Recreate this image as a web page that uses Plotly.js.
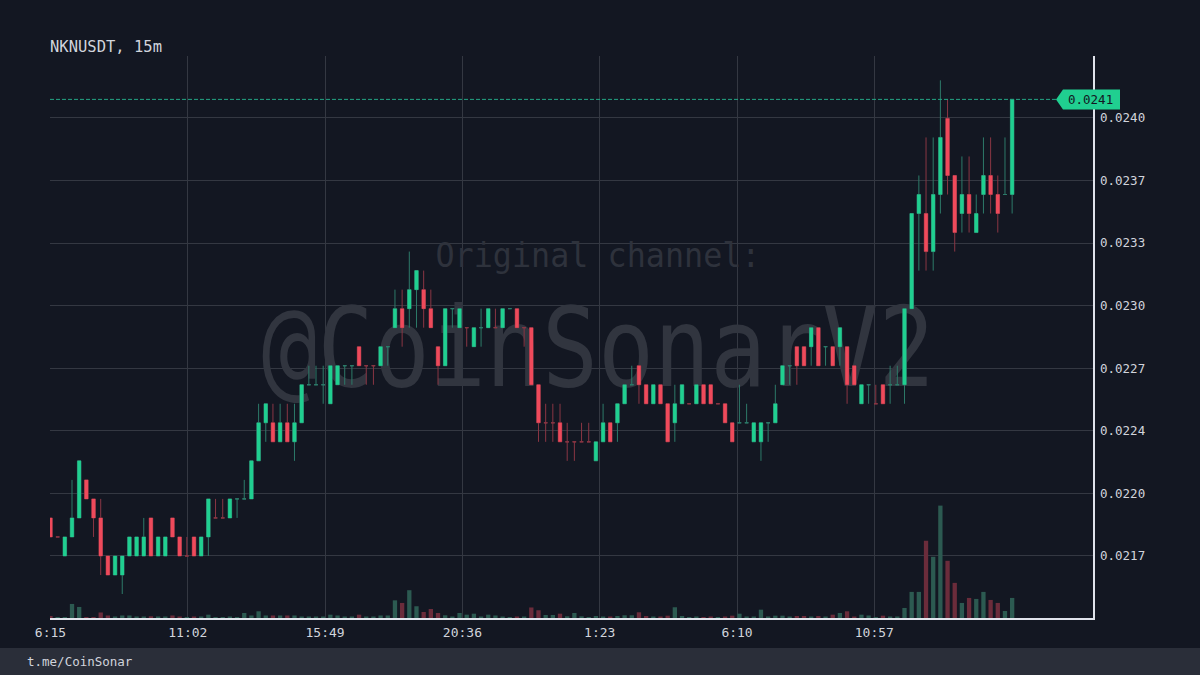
<!DOCTYPE html>
<html><head><meta charset="utf-8">
<script src="https://cdn.plot.ly/plotly-3.0.1.min.js"></script>
<style>html,body{margin:0;padding:0;background:#131722;} #chart{width:1200px;height:675px;}</style>
</head><body><div id="chart"></div>
<script>
const chartTitle = 'NKNUSDT, 15m';
const footerText = 't.me/CoinSonar';
const watermarkTexts = ['Original channel:', '@CoinSonarV2'];
const startUTC = Date.UTC(2021, 0, 10, 6, 15);
const stepMinutes = 15;

const opens = [
0.0219,0.0218,0.0217,0.0218,0.0219,0.0221,0.0220,0.0219,0.0217,0.0216,
0.0216,0.0217,0.0217,0.0217,0.0219,0.0217,0.0217,0.0219,0.0218,0.0217,
0.0218,0.0217,0.0218,0.0219,0.0219,0.0219,0.0220,0.0220,0.0220,0.0222,
0.0224,0.0224,0.0223,0.0224,0.0223,0.0224,0.0226,0.0226,0.0226,0.0225,
0.0226,0.0227,0.0227,0.0228,0.0227,0.0227,0.0227,0.0228,0.0229,0.0230,
0.0230,0.0231,0.0231,0.0230,0.0228,0.0227,0.0230,0.0229,0.0229,0.0228,
0.0229,0.0229,0.0229,0.0229,0.0230,0.0230,0.0229,0.0229,0.0226,0.0224,
0.0224,0.0224,0.0223,0.0223,0.0223,0.0223,0.0222,0.0223,0.0224,0.0224,
0.0225,0.0226,0.0227,0.0226,0.0225,0.0226,0.0225,0.0224,0.0225,0.0225,
0.0225,0.0226,0.0226,0.0225,0.0225,0.0224,0.0224,0.0224,0.0223,0.0223,
0.0224,0.0224,0.0226,0.0227,0.0228,0.0228,0.0228,0.0229,0.0228,0.0228,
0.0228,0.0228,0.0227,0.0225,0.0226,0.0225,0.0226,0.0226,0.0226,0.0226,
0.0230,0.0235,0.0235,0.0233,0.0236,0.0240,0.0237,0.0235,0.0236,0.0234,
0.0236,0.0237,0.0236,0.0236,0.0236];
const highs = [
0.0219,0.0218,0.0218,0.0221,0.0222,0.0221,0.0220,0.0220,0.0217,0.0217,
0.0217,0.0218,0.0218,0.0219,0.0219,0.0218,0.0218,0.0219,0.0218,0.0218,
0.0218,0.0218,0.0220,0.0220,0.0220,0.0220,0.0220,0.0221,0.0222,0.0225,
0.0225,0.0225,0.0225,0.0225,0.0225,0.0226,0.0227,0.0227,0.0227,0.0227,
0.0227,0.0227,0.0227,0.0228,0.0227,0.0227,0.0228,0.0228,0.0231,0.0231,
0.0233,0.0232,0.0232,0.0231,0.0228,0.0230,0.0230,0.0230,0.0229,0.0229,
0.0230,0.0230,0.0230,0.0230,0.0230,0.0230,0.0229,0.0229,0.0226,0.0225,
0.0225,0.0225,0.0224,0.0223,0.0224,0.0224,0.0223,0.0225,0.0224,0.0225,
0.0226,0.0227,0.0227,0.0226,0.0226,0.0226,0.0225,0.0226,0.0226,0.0225,
0.0226,0.0226,0.0226,0.0225,0.0225,0.0224,0.0226,0.0225,0.0224,0.0224,
0.0224,0.0226,0.0227,0.0227,0.0228,0.0228,0.0229,0.0229,0.0228,0.0228,
0.0229,0.0228,0.0227,0.0226,0.0226,0.0226,0.0226,0.0227,0.0227,0.0230,
0.0235,0.0237,0.0239,0.0239,0.0242,0.0241,0.0237,0.0238,0.0238,0.0236,
0.0239,0.0239,0.0237,0.0239,0.0241];
const lows = [
0.0218,0.0218,0.0217,0.0218,0.0219,0.0220,0.0218,0.0216,0.0216,0.0216,
0.0215,0.0217,0.0217,0.0217,0.0217,0.0217,0.0217,0.0218,0.0217,0.0217,
0.0217,0.0217,0.0217,0.0219,0.0219,0.0219,0.0219,0.0220,0.0220,0.0222,
0.0223,0.0223,0.0223,0.0223,0.0222,0.0224,0.0226,0.0226,0.0225,0.0225,
0.0226,0.0226,0.0226,0.0227,0.0226,0.0226,0.0227,0.0227,0.0229,0.0228,
0.0229,0.0229,0.0229,0.0229,0.0226,0.0227,0.0229,0.0229,0.0228,0.0228,
0.0228,0.0229,0.0229,0.0229,0.0230,0.0229,0.0228,0.0226,0.0223,0.0223,
0.0223,0.0223,0.0222,0.0222,0.0223,0.0223,0.0222,0.0223,0.0223,0.0223,
0.0225,0.0226,0.0225,0.0225,0.0225,0.0225,0.0223,0.0223,0.0225,0.0225,
0.0225,0.0225,0.0225,0.0225,0.0224,0.0223,0.0224,0.0224,0.0223,0.0222,
0.0223,0.0224,0.0226,0.0226,0.0226,0.0227,0.0227,0.0227,0.0227,0.0227,
0.0227,0.0225,0.0226,0.0225,0.0225,0.0225,0.0225,0.0225,0.0226,0.0225,
0.0230,0.0232,0.0232,0.0232,0.0235,0.0236,0.0233,0.0234,0.0234,0.0234,
0.0235,0.0235,0.0234,0.0236,0.0235];
const closes = [
0.0218,0.0218,0.0218,0.0219,0.0222,0.0220,0.0219,0.0217,0.0216,0.0217,
0.0217,0.0218,0.0218,0.0218,0.0217,0.0218,0.0218,0.0218,0.0217,0.0217,
0.0217,0.0218,0.0220,0.0219,0.0219,0.0220,0.0220,0.0220,0.0222,0.0224,
0.0225,0.0223,0.0224,0.0223,0.0224,0.0226,0.0226,0.0226,0.0226,0.0227,
0.0227,0.0227,0.0227,0.0227,0.0227,0.0227,0.0228,0.0228,0.0230,0.0229,
0.0231,0.0232,0.0230,0.0229,0.0227,0.0230,0.0230,0.0230,0.0229,0.0229,
0.0229,0.0230,0.0229,0.0230,0.0230,0.0229,0.0229,0.0226,0.0224,0.0224,
0.0224,0.0223,0.0223,0.0223,0.0223,0.0223,0.0223,0.0224,0.0223,0.0225,
0.0226,0.0226,0.0226,0.0225,0.0226,0.0225,0.0223,0.0225,0.0226,0.0225,
0.0226,0.0225,0.0225,0.0225,0.0224,0.0223,0.0224,0.0224,0.0224,0.0224,
0.0224,0.0225,0.0227,0.0227,0.0227,0.0227,0.0229,0.0227,0.0228,0.0227,
0.0229,0.0226,0.0226,0.0226,0.0226,0.0225,0.0225,0.0226,0.0226,0.0230,
0.0235,0.0236,0.0233,0.0236,0.0239,0.0237,0.0234,0.0236,0.0235,0.0235,
0.0237,0.0236,0.0235,0.0236,0.0241];
const volumes = [
2,1,1,14,11,1,1,5.5,2.5,1.5,
2.5,2.5,1.5,1.5,1.7,1.5,1.5,2.5,1.5,1,
1.5,1.5,3.3,1,1,1.5,1,5,2.5,6.7,
2.5,2.5,2.5,2.5,2.5,1.5,1.5,1.5,1.5,3.3,
2.5,1.5,1.5,3.3,1.5,1.5,2.5,2.5,17.6,15,
27.7,11.7,6,9,5,2.7,1.5,5,3.3,4.3,
1.5,3.3,2.5,1.5,1,1.5,1.5,10.5,7.7,3,
3,4.3,1.7,5,1.7,1,2,1.5,1.5,2,
2.7,2.7,5.7,2,1.5,1.5,2.3,10.7,2,1,
1.5,1,1.5,1,1.5,2.3,4.3,1.5,1.5,8.3,
1.5,2.3,2.3,1.5,2,2,1.5,2,1.5,3.3,
5,6.7,1.5,3.3,2.5,1,2.3,1.5,1.5,10,
26,26,77,61,112,57,35,15,20,19,
26,18,15,7,20];

const priceTickVals = [0.021700,0.022029,0.022358,0.022687,0.023016,0.023345,0.023674,0.024003];
const priceTickLabels = ['0.0217','0.0220','0.0224','0.0227','0.0230','0.0233','0.0237','0.0240'];
const timeTickVals = ['2021-01-10 06:15','2021-01-10 11:02','2021-01-10 15:49','2021-01-10 20:36','2021-01-11 01:23','2021-01-11 06:10','2021-01-11 10:57'];
const timeTickLabels = ['6:15','11:02','15:49','20:36','1:23','6:10','10:57'];

const xRangeUTC = [Date.UTC(2021,0,10,6,14), Date.UTC(2021,0,11,18,34)];
const priceRange = [0.021374, 0.024328];

const upColor = '#20cf90', downColor = '#ef4a5b';
const wickUp = '#2d7a69', wickDown = '#8a3644';
const volUp = '#2c5a51', volDown = '#6b2c3b';
const gridColor = '#343842';

function fmt(ms){ return new Date(ms).toISOString().slice(0,19).replace('T',' '); }
const times = opens.map((_, i) => fmt(startUTC + i*stepMinutes*60000));
const xRange = xRangeUTC.map(fmt);
const lastClose = closes[closes.length-1];
const bodyHigh = opens.map((o,i) => Math.max(o, closes[i]));
const bodyLow = opens.map((o,i) => Math.min(o, closes[i]));
const volColors = opens.map((o,i) => closes[i] < o ? volDown : volUp);
const volMax = Math.max(...volumes);

const wmX = fmt(xRangeUTC[0] + (548/1043)*(xRangeUTC[1]-xRangeUTC[0]));

const data = [
  {type:'scatter', mode:'text', x:[wmX, wmX], y:[0.639, 0.462], text:watermarkTexts,
   textposition:'middle center',
   textfont:{family:'DejaVu Sans Mono', size:[33, 110], color:['#2e323c','#31353f']},
   xaxis:'x', yaxis:'y', hoverinfo:'skip', showlegend:false},
  {type:'bar', x:times, y:volumes, xaxis:'x', yaxis:'y2', width: 0.6*stepMinutes*60000,
   marker:{color:volColors, line:{width:0}}, hoverinfo:'skip', showlegend:false},
  {type:'candlestick', x:times, open:opens, high:highs, low:lows, close:closes, xaxis:'x', yaxis:'y3',
   increasing:{line:{color:wickUp, width:1}, fillcolor:wickUp},
   decreasing:{line:{color:wickDown, width:1}, fillcolor:wickDown},
   whiskerwidth:0, hoverinfo:'skip', showlegend:false},
  {type:'candlestick', x:times, open:opens, high:bodyHigh, low:bodyLow, close:closes, xaxis:'x', yaxis:'y3',
   increasing:{line:{color:upColor, width:0}, fillcolor:upColor},
   decreasing:{line:{color:downColor, width:0}, fillcolor:downColor},
   whiskerwidth:0, hoverinfo:'skip', showlegend:false}
];

const plotW = 1043, plotH = 562;
const layout = {
  width:1200, height:675,
  paper_bgcolor:'#131722', plot_bgcolor:'#131722',
  margin:{l:50, r:107, t:56, b:57, pad:0},
  showlegend:false,
  font:{family:'DejaVu Sans Mono', color:'#d1d4dc', size:12.5},
  xaxis:{type:'date', range:xRange, tickvals:timeTickVals, ticktext:timeTickLabels,
    showgrid:true, gridcolor:gridColor, gridwidth:1, showline:true, linecolor:'#e0e3eb', linewidth:1.5,
    ticks:'', ticklabelstandoff:2, zeroline:false, rangeslider:{visible:false}, fixedrange:true,
    tickfont:{size:13, color:'#d1d4dc'}},
  yaxis:{range:[0,1], visible:false, fixedrange:true, showgrid:false, zeroline:false},
  yaxis2:{overlaying:'y', range:[0, volMax*5], visible:false, fixedrange:true, showgrid:false, zeroline:false},
  yaxis3:{overlaying:'y', side:'right', anchor:'x', range:priceRange, tickvals:priceTickVals, ticktext:priceTickLabels,
    showgrid:true, gridcolor:gridColor, gridwidth:1, showline:true, linecolor:'#e0e3eb', linewidth:1.5,
    ticks:'', ticklabelstandoff:3, zeroline:false, fixedrange:true, tickfont:{size:12.5, color:'#d1d4dc'}},
  shapes:[
    {type:'rect', xref:'paper', yref:'paper', x0:-50/plotW, x1:1+107/plotW, y0:-57/plotH, y1:-30/plotH,
     fillcolor:'#2a2e39', line:{width:0}, layer:'below'},
    {type:'line', xref:'paper', x0:0, x1:1, yref:'y3', y0:lastClose, y1:lastClose,
     line:{color:'#24a585', width:1, dash:'4px,2px'}},
    {type:'path', xref:'paper', xsizemode:'pixel', xanchor:1, yref:'y3', ysizemode:'pixel', yanchor:lastClose,
     path:'M-37,0 L-30,10 L27,10 L27,-10 L-30,-10 Z', fillcolor:upColor, line:{width:0}}
  ],
  annotations:[
    {text:chartTitle, xref:'paper', yref:'paper', x:0, y:1+9/plotH, xanchor:'left', yanchor:'middle', xshift:-2,
     showarrow:false, font:{size:15.5, color:'#d1d4dc'}},
    {text:lastClose.toFixed(4), xref:'paper', x:1, xshift:-3, xanchor:'center', yref:'y3', y:lastClose, yanchor:'middle',
     showarrow:false, font:{size:12.5, color:'#131722'}},
    {text:footerText, xref:'paper', yref:'paper', x:-25/plotW, y:-43/plotH, xanchor:'left', yanchor:'middle',
     showarrow:false, font:{size:12.5, color:'#d1d4dc'}}
  ]
};

Plotly.newPlot('chart', data, layout, {staticPlot:true, displayModeBar:false}).then(function(gd){
  const fit = {};
  fit[watermarkTexts[0]] = 325; fit[watermarkTexts[1]] = 673;
  gd.querySelectorAll('.textpoint text').forEach(function(t){
    const w = fit[t.textContent];
    if (w) { t.setAttribute('textLength', w); t.setAttribute('lengthAdjust', 'spacingAndGlyphs'); }
  });
});
</script>
</body></html>
